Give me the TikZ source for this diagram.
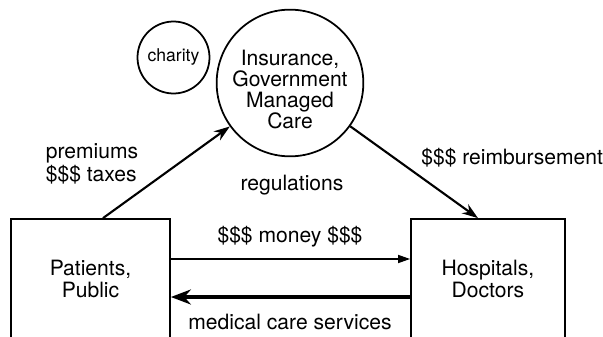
\documentclass[tikz,border=0pt]{standalone}
\usepackage{fontspec}
\setmainfont{TeX Gyre Heros}
\usetikzlibrary{arrows.meta}

\begin{document}
\begin{tikzpicture}[
    font=\fontsize{12}{13}\selectfont,
    party/.style={rectangle, draw, line width=1pt, minimum height=2.4cm, align=center},
    payer/.style={circle, draw, line width=1pt, align=center, inner sep=0pt},
    flow/.style={-{Stealth[length=3.2mm,width=2.2mm]}, line width=1.2pt},
    money/.style={-{Triangle[length=2.4mm,width=1.6mm]}, line width=0.9pt},
    care/.style={-{Stealth[length=4mm,width=3mm]}, line width=1.8pt}
]
\useasboundingbox (0,0) rectangle (12.06,6.72);

% payers at the top
\node[payer, minimum size=1.44cm, font=\fontsize{10}{12}\selectfont] (charity) at (3.47,5.57) {charity};
\node[payer, minimum size=2.8cm, font=\fontsize{12}{12}\selectfont] (insurance) at (5.80,5.06)
    {\rule{0pt}{16pt}Insurance,\\Government\\Managed\\Care};

% patients and providers (boxes run off the bottom edge)
\node[party, minimum width=3.18cm] (patients) at (1.81,1.14) {Patients,\\Public};
\node[party, minimum width=3.08cm] (hospitals) at (9.76,1.14) {Hospitals,\\Doctors};

\draw[flow] ([xshift=0.25cm]patients.north) -- (insurance);
\draw[flow] (insurance) -- ([xshift=-0.2cm]hospitals.north);
\draw[money] ([yshift=0.40cm]patients.east) -- ([yshift=0.40cm]hospitals.west);
\draw[care] ([yshift=-0.36cm]hospitals.west) -- ([yshift=-0.36cm]patients.east);

% labels
\node[align=left] (premiums) at (1.84,3.44) {premiums\\\$\$\$ taxes};
\node (regulations) at (5.84,3.02) {regulations};
\node[anchor=west, inner sep=0pt] (reimbursement) at (8.42,3.56) {\$\$\$ reimbursement};
\node (moneylabel) at (5.80,1.98) {\$\$\$ money \$\$\$};
\node (careservices) at (5.80,0.28) {medical care services};

\end{tikzpicture}
\end{document}
